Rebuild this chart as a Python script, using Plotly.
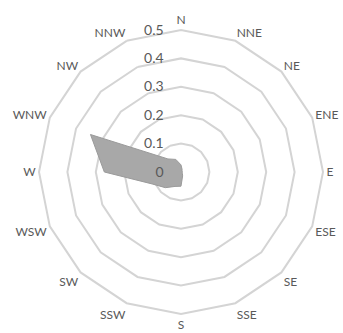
import plotly.graph_objects as go

# Wind direction frequencies (16-point compass)
directions = ["N", "NNE", "NE", "ENE", "E", "ESE", "SE", "SSE",
              "S", "SSW", "SW", "WSW", "W", "WNW", "NW", "NNW"]
frequency = [0.025, 0.01, 0.005, 0.005, 0.005, 0.005, 0.007, 0.015,
             0.05, 0.055, 0.078, 0.11, 0.27, 0.345, 0.065, 0.048]
radial_ticks = [0, 0.1, 0.2, 0.3, 0.4, 0.5]

text_color = "#595959"
grid_color = "#d4d4d4"

fig = go.Figure()
fig.add_trace(go.Scatterpolar(
    r=frequency + frequency[:1],
    theta=directions + directions[:1],
    mode="lines",
    fill="toself",
    fillcolor="#a8a8a8",
    line=dict(color="#9a9a9a", width=1),
    hoverinfo="skip",
    showlegend=False,
))

fig.update_layout(
    width=343,
    height=333,
    margin=dict(l=0, r=0, t=0, b=0),
    paper_bgcolor="white",
    plot_bgcolor="white",
    font=dict(family="Lato, Carlito, sans-serif", size=12, color=text_color),
    polar=dict(
        domain=dict(x=[0.1137, 0.9417], y=[0.057, 0.91]),
        bgcolor="white",
        gridshape="linear",
        angularaxis=dict(
            direction="clockwise",
            rotation=90,
            categoryorder="array",
            categoryarray=directions,
            showgrid=False,
            showline=True,
            linecolor=grid_color,
            linewidth=2,
            ticks="",
            tickfont=dict(size=12, color=text_color),
        ),
        radialaxis=dict(
            range=[0, 0.5],
            tickvals=radial_ticks,
            ticktext=[f"{v:g}" for v in radial_ticks],
            angle=90,
            tickangle=90,
            side="counterclockwise",
            showline=False,
            showgrid=True,
            gridcolor=grid_color,
            gridwidth=2,
            ticks="outside",
            ticklen=12,
            tickcolor="rgba(0,0,0,0)",
            tickfont=dict(size=14, color=text_color),
        ),
    ),
)

fig.write_html("out.html")
